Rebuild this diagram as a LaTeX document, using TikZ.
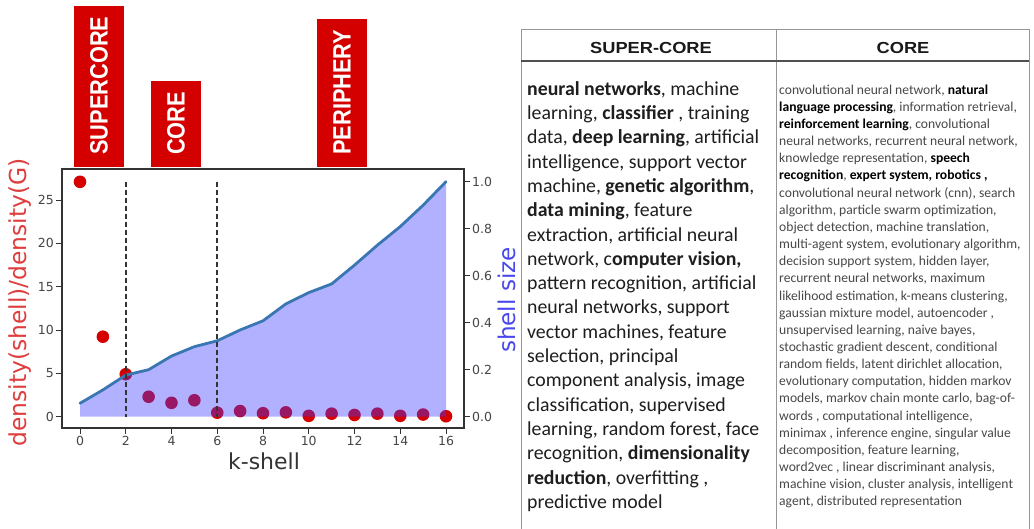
\documentclass[tikz,border=0pt]{standalone}
\usepackage{fontspec}
\setmainfont{Carlito}
\newfontfamily\dejavu{DejaVu Sans}
\newfontfamily\arial{Liberation Sans}
\usepackage{graphicx}
\definecolor{boxred}{RGB}{212,0,0}
\definecolor{dotred}{RGB}{215,0,0}
\definecolor{fillblue}{RGB}{60,60,255}
\definecolor{linecol}{RGB}{58,118,178}
\definecolor{ticklab}{RGB}{70,70,70}
\definecolor{ylabred}{RGB}{222,62,62}
\definecolor{ylabblue}{RGB}{72,72,238}
\definecolor{gridgray}{RGB}{150,150,150}
\definecolor{hdrline}{RGB}{80,80,80}
\definecolor{sctext}{RGB}{30,30,30}
\definecolor{ctext}{RGB}{72,72,72}
\tikzset{
  redbox/.style={fill=boxred, draw=none},
  boxtext/.style={text=white, inner sep=0pt, rotate=90, anchor=west, font=\arial\bfseries\fontsize{21.8}{22}\selectfont},
  ticklabel/.style={text=ticklab, inner sep=0pt, font=\dejavu\fontsize{12.5}{13}\selectfont},
  tickmark/.style={draw=black!80, line width=1pt},
  hdr/.style={inner sep=0pt, text=black!90, font=\arial\bfseries\fontsize{16}{16}\selectfont},
  scbody/.style={inner sep=0pt, anchor=north west, align=left, text=sctext, font=\fontsize{19.8}{24.3}\selectfont},
  cbody/.style={inner sep=0pt, anchor=north west, align=left, text=ctext, font=\fontsize{13.6}{17.15}\selectfont},
  vdash/.style={black!80, line width=2.2pt, dash pattern=on 5pt off 3pt},
}
\begin{document}
\begin{tikzpicture}[x=1pt,y=-1pt]
\useasboundingbox (0,0) rectangle (1034,529);
\fill[white] (0,0) rectangle (1034,529);
% red labels
\fill[redbox] (74,6) rectangle (124,167);
\fill[redbox] (151,81) rectangle (201,167);
\fill[redbox] (317,19) rectangle (367,167);
\node[boxtext] (tsc) at (99,155) {\scalebox{1}[1.15]{SUPERCORE}};
\node[boxtext] (tc) at (176,155) {\scalebox{1}[1.15]{CORE}};
\node[boxtext] (tp) at (342,155) {\scalebox{1}[1.15]{PERIPHERY}};
% dots (under fill)
\begin{scope}[shift={(80,416.7)}, x=22.875pt, y=8.667pt]
\foreach \k/\v in {0/27.1,1/9.23,2/4.9,3/2.3,4/1.6,5/1.9,6/0.46,7/0.65,8/0.4,9/0.5,10/0.1,11/0.35,12/0.2,13/0.35,14/0.1,15/0.25,16/0.05}
  \fill[dotred] (\k,\v) circle (6.3pt);
\end{scope}
% shell size area + line
\begin{scope}[shift={(80,416.7)}, x=22.875pt, y=235pt]
\fill[fillblue, opacity=0.4] (0,0) -- (0,0.057) -- (1,0.114) -- (2,0.177) -- (3,0.2) -- (4,0.258) -- (5,0.298) -- (6,0.323) -- (7,0.369) -- (8,0.408) -- (9,0.48) -- (10,0.528) -- (11,0.565) -- (12,0.645) -- (13,0.73) -- (14,0.809) -- (15,0.9) -- (16,1.0) -- (16,0) -- cycle;
\draw[linecol, line width=2.8pt, line join=round, line cap=round] (0,0.057) -- (1,0.114) -- (2,0.177) -- (3,0.2) -- (4,0.258) -- (5,0.298) -- (6,0.323) -- (7,0.369) -- (8,0.408) -- (9,0.48) -- (10,0.528) -- (11,0.565) -- (12,0.645) -- (13,0.73) -- (14,0.809) -- (15,0.9) -- (16,1.0);
\end{scope}
\draw[vdash] (125.75,181.7) -- (125.75,416.7);
\draw[vdash] (217.25,181.7) -- (217.25,416.7);
% frame
\draw[black!80, line width=1.3pt] (62,169) rectangle (464,428);
% bottom ticks
\foreach \k in {0,2,...,16}{
  \draw[tickmark] ({80+22.875*\k},428) -- ({80+22.875*\k},434);
  \node[ticklabel, anchor=north] at ({80+22.875*\k},436) {\k};
}
% left ticks
\foreach \v in {0,5,...,25}{
  \draw[tickmark] (56,{416.7-8.667*\v}) -- (62,{416.7-8.667*\v});
  \node[ticklabel, anchor=east] at (54,{416.7-8.667*\v}) {\v};
}
% right ticks
\foreach \s/\t in {0/0.0,0.2/0.2,0.4/0.4,0.6/0.6,0.8/0.8,1/1.0}{
  \draw[tickmark] (464,{416.7-235*\s}) -- (470,{416.7-235*\s});
  \node[ticklabel, anchor=west] at (472,{416.7-235*\s}) {\t};
}
% axis labels
\node[inner sep=0pt, anchor=base, text=black!80, font=\dejavu\fontsize{22}{22}\selectfont] (xl) at (264,469) {k-shell};
\node[inner sep=0pt, rotate=90, text=ylabred, font=\dejavu\fontsize{23.4}{24}\selectfont] (yl) at (20.5,302.5) {density(shell)/density(G)};
\node[inner sep=0pt, rotate=90, text=ylabblue, font=\dejavu\fontsize{23.1}{24}\selectfont] (yr) at (507,300) {shell size};
% table
\draw[gridgray, line width=1pt] (521,529) -- (521,30) -- (1029,30) -- (1029,529);
\draw[gridgray, line width=1pt] (776,30) -- (776,529);
\draw[hdrline, line width=1.8pt] (521,61) -- (1029,61);
\node[hdr] (h1) at (651,48) {\scalebox{1.14}[1]{SUPER-CORE}};
\node[hdr] (h2) at (903,48) {\scalebox{1.14}[1]{CORE}};
\node[scbody] (sc) at (527,78) {\strut\textbf{neural networks}, machine\\
learning, \textbf{classifier} , training\\
data, \textbf{deep learning}, artificial\\
intelligence, support vector\\
machine, \textbf{genetic algorithm},\\
\textbf{data mining}, feature\\
extraction, artificial neural\\
network, c\textbf{omputer vision,}\\
pattern recognition, artificial\\
neural networks, support\\
vector machines, feature\\
selection, principal\\
component analysis, image\\
classification, supervised\\
learning, random forest, face\\
recognition, \textbf{dimensionality}\\
\textbf{reduction}, overfitting ,\\
predictive model};
\node[cbody] (cc) at (779,82) {\strut convolutional neural network, \textcolor{black}{\textbf{natural}}\\
\textcolor{black}{\textbf{language processing}}, information retrieval,\\
\textcolor{black}{\textbf{reinforcement learning}}, convolutional\\
neural networks, recurrent neural network,\\
knowledge representation, \textcolor{black}{\textbf{speech}}\\
\textcolor{black}{\textbf{recognition}}, \textcolor{black}{\textbf{expert system, robotics ,}}\\
convolutional neural network (cnn), search\\
algorithm, particle swarm optimization,\\
object detection, machine translation,\\
multi-agent system, evolutionary algorithm,\\
decision support system, hidden layer,\\
recurrent neural networks, maximum\\
likelihood estimation, k-means clustering,\\
gaussian mixture model, autoencoder ,\\
unsupervised learning, naive bayes,\\
stochastic gradient descent, conditional\\
random fields, latent dirichlet allocation,\\
evolutionary computation, hidden markov\\
models, markov chain monte carlo, bag-of-\\
words , computational intelligence,\\
minimax , inference engine, singular value\\
decomposition, feature learning,\\
word2vec , linear discriminant analysis,\\
machine vision, cluster analysis, intelligent\\
agent, distributed representation};
\end{tikzpicture}
\end{document}
